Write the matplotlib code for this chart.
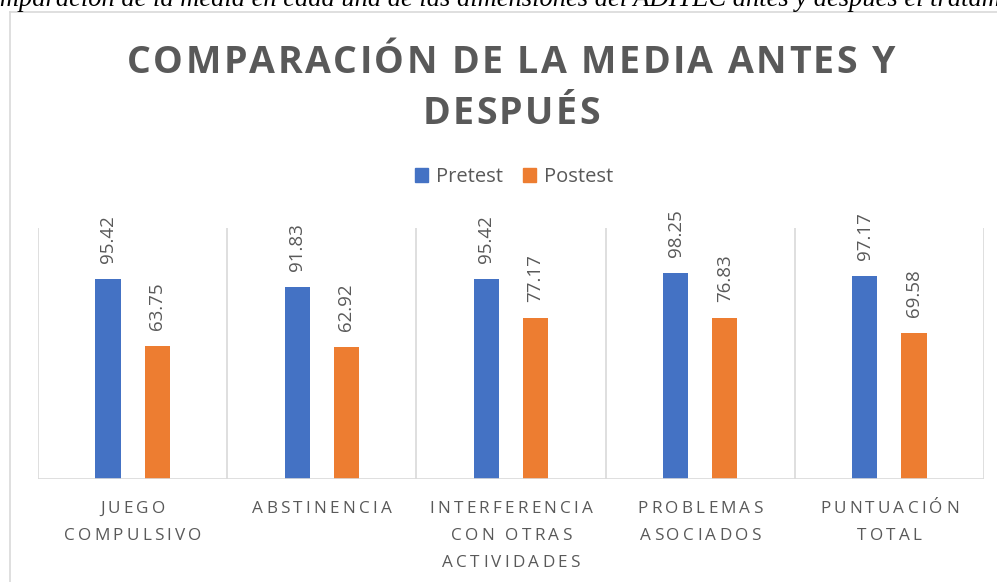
import matplotlib

matplotlib.use("Agg")
import matplotlib.pyplot as plt  # noqa: E402
from matplotlib.font_manager import FontProperties, findfont, get_font  # noqa: E402
from matplotlib.lines import Line2D  # noqa: E402
from matplotlib.patches import Patch  # noqa: E402
from matplotlib.transforms import IdentityTransform  # noqa: E402

W, H = 997, 582
GRAY = "#595959"
GRID = "#d9d9d9"
BLUE = "#4472C4"
ORANGE = "#ED7D31"
FAMILY = "Open Sans"

categories = [
    "JUEGO\nCOMPULSIVO",
    "ABSTINENCIA",
    "INTERFERENCIA\nCON OTRAS\nACTIVIDADES",
    "PROBLEMAS\nASOCIADOS",
    "PUNTUACIÓN\nTOTAL",
]
pretest = [95.42, 91.83, 95.42, 98.25, 97.17]
postest = [63.75, 62.92, 77.17, 76.83, 69.58]
series_names = ["Pretest", "Postest"]
title = "COMPARACIÓN DE LA MEDIA ANTES Y\nDESPUÉS"
caption = ("Comparación de la media en cada una de las dimensiones "
           "del ADITEC antes y después el tratamiento")


def advances(text, fp, dpi):
    font = get_font(findfont(fp))
    font.set_size(fp.get_size_in_points(), dpi)
    return [font.load_char(ord(c)).linearHoriAdvance / 65536 for c in text]


def spaced(fig, cx, baseline, text, fp, spacing, linegap=0, color=GRAY):
    """Centered, letter-spaced text; cx/baseline in image pixels (top-left origin)."""
    for i, line in enumerate(text.split("\n")):
        widths = advances(line, fp, fig.dpi)
        x = cx - (sum(widths) + spacing * (len(line) - 1)) / 2
        y = H - baseline - i * linegap
        for ch, w in zip(line, widths):
            fig.text(x, y, ch, fontproperties=fp, color=color,
                     transform=IdentityTransform(), ha="left", va="baseline")
            x += w + spacing


fig = plt.figure(figsize=(W / 100, H / 100), dpi=100)

# clipped caption of the document above the chart
cap_fp = FontProperties(family="Liberation Serif", style="italic", size=10)
visible = caption[2:caption.index("tratamiento") + 6]
scale = 1000 / sum(advances(visible, cap_fp, fig.dpi))
cap_fp.set_size(10 * scale)
fig.text(-sum(advances(caption[:2], cap_fp, fig.dpi)), H - 6, caption,
         fontproperties=cap_fp, color="black", transform=IdentityTransform(),
         ha="left", va="baseline")

# chart frame (only left and top edges are inside the picture)
fig.add_artist(Line2D([9.5, 9.5], [0, H - 12], color=GRID, lw=1.2,
                      transform=IdentityTransform()))
fig.add_artist(Line2D([9.5, W], [H - 12, H - 12], color=GRID, lw=1.2,
                      transform=IdentityTransform()))

ax = fig.add_axes([38 / W, 103 / H, 946 / W, 251 / H])
ax.set_xlim(-0.5, len(categories) - 0.5)
ax.set_ylim(0, 120)
ax.axis("off")

xs = list(range(len(categories)))
ax.vlines([x - 0.5 for x in xs] + [xs[-1] + 0.5], 0, 120, color=GRID, lw=1.2)
ax.axhline(0, color=GRID, lw=1.2)

width = 0.133
offset = 0.13
bars_pre = ax.bar([x - offset for x in xs], pretest, width, color=BLUE)
bars_post = ax.bar([x + offset for x in xs], postest, width, color=ORANGE)

label_fp = FontProperties(family=FAMILY, size=13.5)
for bars, vals in ((bars_pre, pretest), (bars_post, postest)):
    for b, v in zip(bars, vals):
        ax.annotate(f"{v:.2f}", (b.get_x() + b.get_width() / 2, v),
                    xytext=(0, 16), textcoords="offset pixels",
                    rotation=90, ha="center", va="bottom",
                    fontproperties=label_fp, color=GRAY)

# letter-spaced category labels
tick_fp = FontProperties(family=FAMILY, size=12.3)
for x, cat in zip(xs, categories):
    px = ax.transData.transform((x, 0))[0]
    spaced(fig, px, 513, cat, tick_fp, 3.2, linegap=27)

# title
title_fp = FontProperties(family=FAMILY, size=27, weight="bold")
spaced(fig, 511, 73, title, title_fp, 2.4, linegap=51)

fig.legend(handles=[Patch(color=BLUE, label=series_names[0]),
                    Patch(color=ORANGE, label=series_names[1])],
           ncol=2, loc="center", bbox_to_anchor=(514 / W, 1 - 177 / H),
           frameon=False, prop=FontProperties(family=FAMILY, size=14.5),
           labelcolor=GRAY, handlelength=0.65, handleheight=0.65,
           handletextpad=0.4, columnspacing=1.0, borderpad=0)

fig.savefig("out.png", dpi=100)
